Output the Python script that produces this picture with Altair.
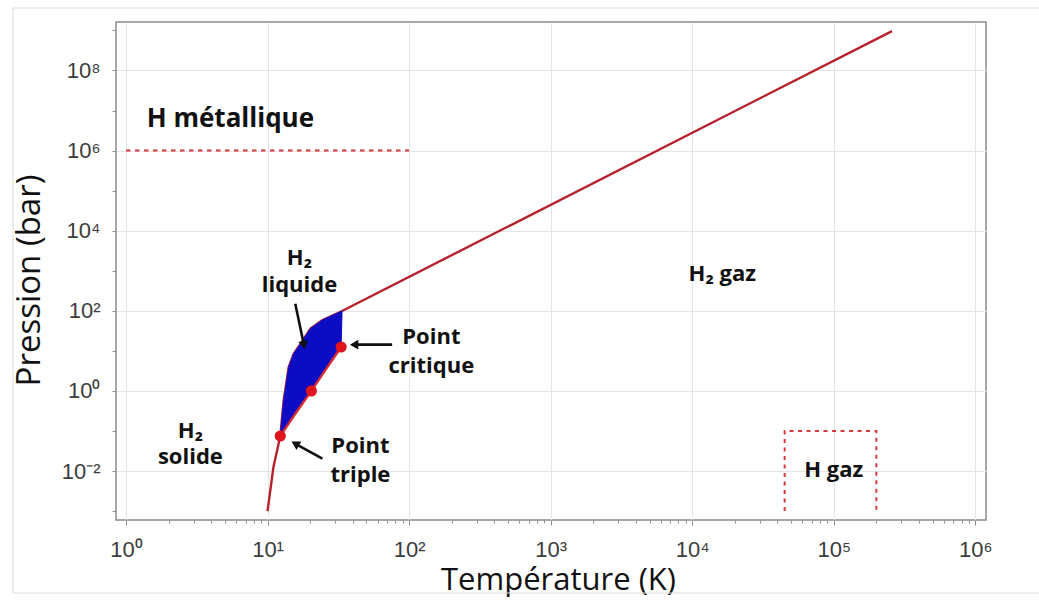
import json
import altair as alt
import pandas as pd

# ---- phase boundaries of hydrogen (temperature in K, pressure in bar) ----
# sublimation curve, up to the triple point
subl_T = [10.0, 11.0, 12.3]
subl_P = [1.0e-3, 1.24e-2, 7.5e-2]

# fusion curve from the triple point
fus_T = [12.3, 13.0, 14.1, 15.3, 17.1, 20.1, 24.3, 33.6]
fus_P = [7.5e-2, 0.58, 3.9, 8.5, 15.0, 36.0, 58.0, 99.0]

# high-pressure extension of the boundary
ext_T = [33.6, 2.58e5]
ext_P = [99.0, 9.6e8]

# vaporisation curve, triple point -> critical point
vap_T = [12.3, 15.7, 20.4, 25.6, 33.1]
vap_P = [7.5e-2, 0.27, 1.0, 3.3, 12.5]

# marked states: triple point, normal boiling point, critical point
pt_T = [12.3, 20.4, 33.1]
pt_P = [7.5e-2, 1.0, 12.5]

# metallic hydrogen threshold
met_T = [1.0, 100.0]
met_P = [1.0e6, 1.0e6]

# atomic hydrogen gas domain
hgaz_T = [4.5e4, 4.5e4, 2.0e5, 2.0e5]
hgaz_P = [1.0e-3, 0.1, 0.1, 1.0e-3]

# region labels
title_text = ["H métallique"]
title_T = [5.47]
title_P = [6.3e6]

label_text = ["H₂", "liquide", "H₂ gaz", "Point", "critique",
              "H₂", "solide", "Point", "triple", "H gaz"]
label_T = [16.8, 16.8, 1.63e4, 143.7, 143.7, 2.85, 2.85, 45.3, 45.3, 1.0e5]
label_P = [2040.0, 432.0, 813.0, 21.8, 4.1, 0.098, 0.022, 0.0414, 0.00783, 0.0104]

# pointer arrows: tail (T0, P0) -> head (T1, P1)
arrow_T0 = [15.7, 75.9, 24.4]
arrow_P0 = [151.0, 14.3, 0.0204]
arrow_T1 = [18.0, 41.8, 16.0]
arrow_P1 = [15.1, 14.3, 0.0465]
arrow_angle = [168, 270, 299]

# axis ticks
x_tick_labels = ["10⁰", "10¹", "10²", "10³", "10⁴", "10⁵", "10⁶"]
x_tick_values = [m * 10 ** k for k in range(6) for m in range(1, 10)] + [1e6]
y_tick_labels = ["", "10⁻²", "", "10⁰", "", "10²", "", "10⁴", "", "10⁶", "", "10⁸", ""]
y_tick_values = [10.0 ** k for k in range(-3, 10)]

x_domain = [0.85, 1.19e6]
y_domain = [6.0e-4, 1.62e9]

W, H = 870, 498
RED = "#b5222b"
DOT = "#e0141c"
DASH = "#d6383c"
BLUE = "#0c0cc4"
ANN_FONT = "Open Sans"

# ---- tables ----
boundary = pd.DataFrame({
    "T": subl_T + fus_T[1:] + ext_T[1:],
    "P": subl_P + fus_P[1:] + ext_P[1:],
})
boundary["i"] = range(len(boundary))

vap = pd.DataFrame({"T": vap_T, "P": vap_P})
vap["i"] = range(len(vap))

liquid = pd.DataFrame({
    "T": fus_T + vap_T[::-1],
    "P": fus_P + vap_P[::-1],
})
liquid["i"] = range(len(liquid))

points = pd.DataFrame({"T": pt_T, "P": pt_P})
met = pd.DataFrame({"T": met_T, "P": met_P, "i": range(len(met_T))})
hgaz = pd.DataFrame({"T": hgaz_T, "P": hgaz_P, "i": range(len(hgaz_T))})
labels = pd.DataFrame({"T": label_T, "P": label_P, "text": label_text})
title_labels = pd.DataFrame({"T": title_T, "P": title_P, "text": title_text})

shafts = pd.DataFrame({
    "id": [0, 1, 2] * 2,
    "i": [0] * 3 + [1] * 3,
    "T": arrow_T0 + arrow_T1,
    "P": arrow_P0 + arrow_P1,
})
heads = pd.DataFrame({"T": arrow_T1, "P": arrow_P1, "ang": arrow_angle})

# ---- scales and axes ----
xs = alt.Scale(type="log", domain=x_domain, nice=False)
ys = alt.Scale(type="log", domain=y_domain, nice=False)

L = "(log(datum.value)/LN10)"
is_decade = f"abs({L}-round({L}))<1e-6"
is_even = f"abs({L}/2-round({L}/2))<1e-6"

x_axis = alt.Axis(
    values=x_tick_values,
    labelExpr=f"{is_decade} ? {json.dumps(x_tick_labels, ensure_ascii=False)}[round({L})] : ''",
    grid=True,
    gridOpacity={"condition": {"test": is_decade, "value": 1}, "value": 0},
    gridColor="#e4e4e4",
    tickSize={"condition": {"test": is_decade, "value": 5}, "value": 3},
    tickColor="#8c8c8c",
    domain=False,
    labelFont="Liberation Sans",
    labelFontSize=22,
    labelColor="#3c3c3c",
    labelPadding=14,
    labelFlush=False,
    labelOverlap=False,
    title="Température (K)",
    titleFont=ANN_FONT,
    titleFontSize=31,
    titleFontWeight="normal",
    titleColor="#111111",
    titleBaseline="middle",
    titleX=442,
    titleY=60,
)

y_axis = alt.Axis(
    values=y_tick_values,
    labelExpr=f"{json.dumps(y_tick_labels, ensure_ascii=False)}[round({L})+3]",
    grid=True,
    gridOpacity={"condition": {"test": is_even, "value": 1}, "value": 0},
    gridColor="#e4e4e4",
    tickSize=4,
    tickColor="#8c8c8c",
    domain=False,
    labelFont="Liberation Sans",
    labelFontSize=22,
    labelColor="#3c3c3c",
    labelPadding=12,
    labelFlush=False,
    labelOverlap=False,
    title="Pression (bar)",
    titleFont=ANN_FONT,
    titleFontSize=33,
    titleFontWeight="normal",
    titleColor="#111111",
    titleBaseline="middle",
    titleX=-87,
    titleY=258,
)


def X():
    return alt.X("T:Q", scale=xs, axis=x_axis)


def Y():
    return alt.Y("P:Q", scale=ys, axis=y_axis)


# ---- layers ----
frame = alt.Chart(pd.DataFrame({"k": [0]})).mark_rect(
    fill="transparent", stroke="#dcdcdc", strokeWidth=1, clip=False
).encode(
    x=alt.value(-103), x2=alt.value(935), y=alt.value(-14), y2=alt.value(571)
)

boundary_line = alt.Chart(boundary).mark_line(color=RED, strokeWidth=2.4).encode(
    x=X(), y=Y(), order="i:Q"
)

liquid_fill = alt.Chart(liquid).mark_line(
    fill=BLUE, stroke=BLUE, strokeWidth=1, fillOpacity=1
).encode(x=X(), y=Y(), order="i:Q")

vap_line = alt.Chart(vap).mark_line(color="#d42a32", strokeWidth=2.4).encode(
    x=X(), y=Y(), order="i:Q"
)

met_line = alt.Chart(met).mark_line(color=DASH, strokeWidth=2, strokeDash=[4.5, 4.5]).encode(
    x=X(), y=Y(), order="i:Q"
)

hgaz_line = alt.Chart(hgaz).mark_line(color=DASH, strokeWidth=2, strokeDash=[4, 4.5]).encode(
    x=X(), y=Y(), order="i:Q"
)

dots = alt.Chart(points).mark_circle(color=DOT, size=125, opacity=1).encode(x=X(), y=Y())

shaft_lines = alt.Chart(shafts).mark_line(color="#111111", strokeWidth=2.6).encode(
    x=X(), y=Y(), detail="id:N", order="i:Q"
)

arrow_heads = alt.Chart(heads).mark_point(
    shape="triangle", filled=True, color="#111111", size=95, opacity=1
).encode(x=X(), y=Y(), angle=alt.Angle("ang:Q", scale=None))

texts = alt.Chart(labels).mark_text(
    font=ANN_FONT, fontSize=22, fontWeight="bold", color="#111111"
).encode(x=X(), y=Y(), text="text:N")

title_texts = alt.Chart(title_labels).mark_text(
    font=ANN_FONT, fontSize=26, fontWeight="bold", color="#111111"
).encode(x=X(), y=Y(), text="text:N")

chart = alt.layer(
    frame, boundary_line, liquid_fill, vap_line, met_line, hgaz_line,
    dots, shaft_lines, arrow_heads, texts, title_texts
).properties(
    width=W,
    height=H,
    autosize=alt.AutoSizeParams(type="none"),
    padding={"left": 116, "top": 22, "right": 53, "bottom": 86},
    background="white",
).configure_view(
    stroke="#8c8c8c", strokeWidth=1.5
)

chart.save("out.html", embed_options={"renderer": "svg", "actions": False})
